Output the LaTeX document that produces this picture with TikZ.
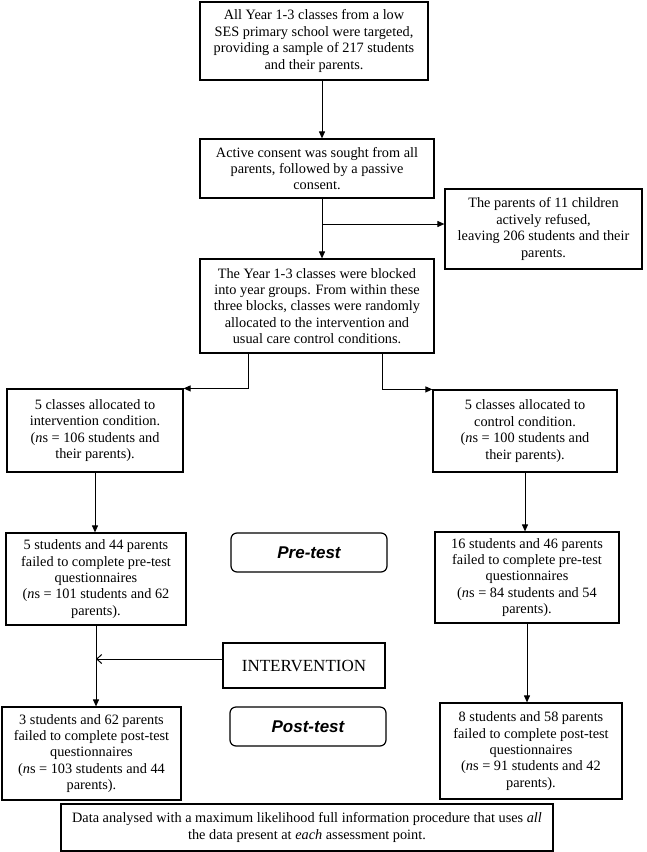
\documentclass[tikz,border=0pt]{standalone}
\usepackage{fontspec}
\setmainfont{Liberation Serif}
\newfontfamily\arialfont{Liberation Sans}
\usepackage{tikz}
\usetikzlibrary{arrows.meta}

\begin{document}
\begin{tikzpicture}[x=1pt, y=-1pt,
    box/.style={draw, line width=1.2pt, align=center, inner sep=2pt,
                font=\fontsize{14.3}{16.4}\selectfont},
    stagebox/.style={draw, line width=1.2pt, rounded corners=6pt, align=center,
                     minimum width=156pt, minimum height=39pt,
                     font=\arialfont\bfseries\itshape\fontsize{17}{20}\selectfont},
    arr/.style={line width=1pt, -{Triangle[length=7pt, width=6pt]}},
    openarr/.style={line width=1pt, -{Straight Barb[length=5pt, width=9pt]}}]

    % page size of the reference
    \useasboundingbox (0,0) rectangle (646,852);

    % Recruitment and consent
    \node[box, minimum width=228pt, minimum height=78pt] (sample) at (314,41)
        {All Year 1-3 classes from a low\\ SES primary school were targeted,\\ providing a sample of 217 students\\ and their parents.};
    \node[box, minimum width=234pt, minimum height=59pt] (consent) at (317,168.5)
        {Active consent was sought from all\\ parents, followed by a passive\\ consent.};
    \node[box, minimum width=197pt, minimum height=80pt] (refused) at (543.5,229)
        {The parents of 11 children\\ actively refused,\\ leaving 206 students and their\\ parents.};
    \node[box, minimum width=234pt, minimum height=94pt] (blocked) at (317,306)
        {The Year 1-3 classes were blocked\\ into year groups. From within these\\ three blocks, classes were randomly\\ allocated to the intervention and\\ usual care control conditions.};

    % Allocation
    \node[box, minimum width=176pt, minimum height=83pt] (intalloc) at (95,430.5)
        {5 classes allocated to\\ intervention condition.\\ (\textit{n}s = 106 students and\\ their parents).};
    \node[box, minimum width=184pt, minimum height=82pt] (ctlalloc) at (525,431)
        {5 classes allocated to\\ control condition.\\ (\textit{n}s = 100 students and\\ their parents).};

    % Pre-test
    \node[box, minimum width=180pt, minimum height=92pt] (intpre) at (96,579)
        {5 students and 44 parents\\ failed to complete pre-test\\ questionnaires\\ (\textit{n}s = 101 students and 62\\ parents).};
    \node[stagebox] (pretest) at (309,552.5) {Pre-test};
    \node[box, minimum width=184pt, minimum height=91pt] (ctlpre) at (527,577.5)
        {16 students and 46 parents\\ failed to complete pre-test\\ questionnaires\\ (\textit{n}s = 84 students and 54\\ parents).};

    % Intervention
    \node[box, minimum width=162pt, minimum height=45pt,
          font=\fontsize{17}{20}\selectfont] (interv) at (304,665.5) {INTERVENTION};

    % Post-test
    \node[box, minimum width=179pt, minimum height=93pt] (intpost) at (91.5,753.5)
        {3 students and 62 parents\\ failed to complete post-test\\ questionnaires\\ (\textit{n}s = 103 students and 44\\ parents).};
    \node[stagebox] (posttest) at (308,726.5) {Post-test};
    \node[box, minimum width=182pt, minimum height=96pt] (ctlpost) at (531,751)
        {8 students and 58 parents\\ failed to complete post-test\\ questionnaires\\ (\textit{n}s = 91 students and 42\\ parents).};

    % Analysis
    \node[box, minimum width=492pt, minimum height=47pt] (analysis) at (307,827.5)
        {Data analysed with a maximum likelihood full information procedure that uses \textit{all}\\ the data present at \textit{each} assessment point.};

    % Arrows
    \coordinate (split) at (322,224);
    \draw[arr] ([xshift=8pt]sample.south) -- ([xshift=5pt]consent.north);
    \draw[arr] ([xshift=5pt]consent.south) -- ([xshift=5pt]blocked.north);
    \draw[arr] (split) -- (split -| refused.west);
    \draw[arr] ([xshift=-69pt]blocked.south) |- (intalloc.north east);
    \draw[arr] ([xshift=65pt]blocked.south) |- (ctlalloc.north west);
    \draw[arr] (intalloc.south) -- (intalloc.south |- intpre.north);
    \draw[arr] (ctlalloc.south) -- (ctlalloc.south |- ctlpre.north);
    \draw[arr] (intpre.south) -- (intpre.south |- intpost.north);
    \draw[arr] (ctlpre.south) -- (ctlpre.south |- ctlpost.north);
    \draw[openarr] ([yshift=6.5pt]interv.west) -- ([yshift=6.5pt]interv.west -| intpre.south);

\end{tikzpicture}
\end{document}
